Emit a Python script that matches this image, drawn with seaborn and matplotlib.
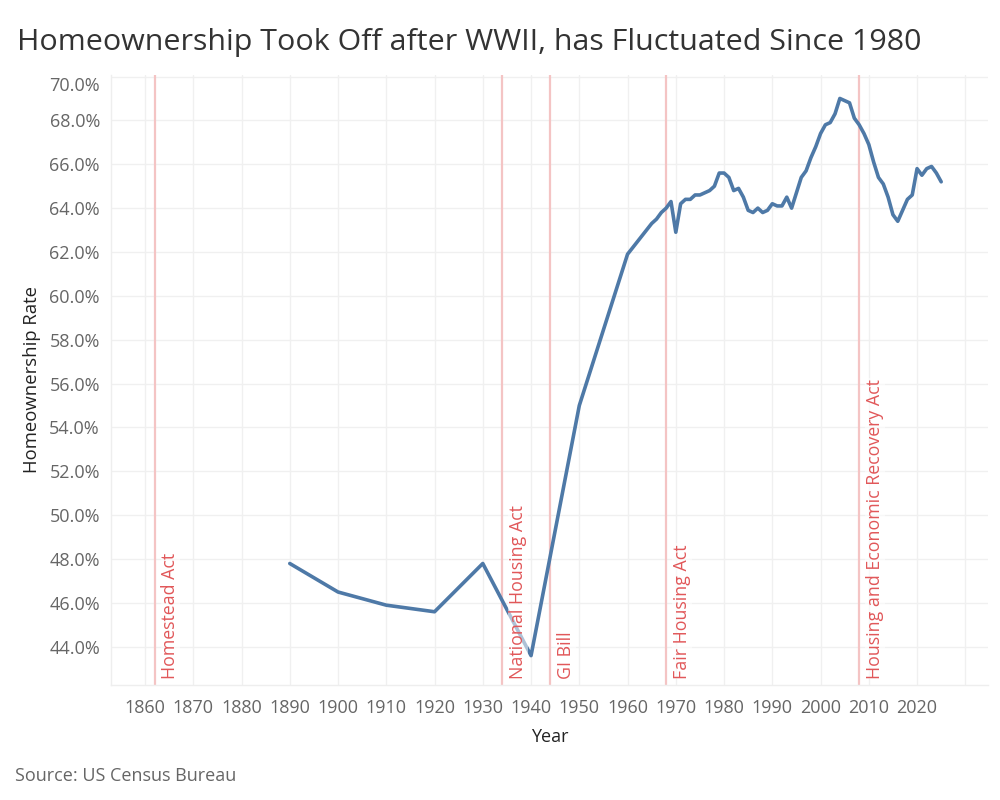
import matplotlib.pyplot as plt
import seaborn as sns
import pandas as pd

# Homeownership rate by year (US Census Bureau)
years = [1890, 1900, 1910, 1920, 1930, 1940, 1950, 1960,
         1965, 1966, 1967, 1968, 1969, 1970, 1971, 1972, 1973, 1974,
         1975, 1976, 1977, 1978, 1979, 1980, 1981, 1982, 1983, 1984,
         1985, 1986, 1987, 1988, 1989, 1990, 1991, 1992, 1993, 1994,
         1995, 1996, 1997, 1998, 1999, 2000, 2001, 2002, 2003, 2004,
         2005, 2006, 2007, 2008, 2009, 2010, 2011, 2012, 2013, 2014,
         2015, 2016, 2017, 2018, 2019, 2020, 2021, 2022, 2023, 2024, 2025]
rates = [47.8, 46.5, 45.9, 45.6, 47.8, 43.6, 55.0, 61.9,
         63.3, 63.5, 63.8, 64.0, 64.3, 62.9, 64.2, 64.4, 64.4, 64.6,
         64.6, 64.7, 64.8, 65.0, 65.6, 65.6, 65.4, 64.8, 64.9, 64.5,
         63.9, 63.8, 64.0, 63.8, 63.9, 64.2, 64.1, 64.1, 64.5, 64.0,
         64.7, 65.4, 65.7, 66.3, 66.8, 67.4, 67.8, 67.9, 68.3, 69.0,
         68.9, 68.8, 68.1, 67.8, 67.4, 66.9, 66.1, 65.4, 65.1, 64.5,
         63.7, 63.4, 63.9, 64.4, 64.6, 65.8, 65.5, 65.8, 65.9, 65.6, 65.2]

# policy milestones
event_years = [1862, 1934, 1944, 1968, 2008]
event_labels = ["Homestead Act", "National Housing Act", "GI Bill",
                "Fair Housing Act", "Housing and Economic Recovery Act"]

x_ticks = list(range(1860, 2031, 10))
x_tick_labels = [str(y) for y in range(1860, 2021, 10)] + [""]
y_ticks = list(range(44, 71, 2))

df = pd.DataFrame({"Year": years, "Rate": rates})

sns.set_style("white")
plt.rcParams["font.family"] = ["Open Sans", "DejaVu Sans"]

fig = plt.figure(figsize=(10, 8), dpi=100)
ax = fig.add_axes([0.111, 0.144, 0.877, 0.762])

for yr in event_years:
    ax.axvline(yr, color="#f4c4c4", lw=1.6, zorder=1)

sns.lineplot(data=df, x="Year", y="Rate", color="#4e79a7", lw=2.6, ax=ax, zorder=2)

for yr, lab in zip(event_years, event_labels):
    ax.text(yr + 1.4, 42.55, lab, rotation=90, ha="left", va="bottom",
            color="#e15759", fontsize=12.8, zorder=3,
            bbox=dict(facecolor="white", edgecolor="none", alpha=0.55, pad=0.5))

ax.set_xlim(1852.95, 2034.7)
ax.set_ylim(42.27, 70.06)
ax.set_xticks(x_ticks)
ax.set_xticklabels(x_tick_labels)
ax.set_yticks(y_ticks)
ax.set_yticklabels([f"{v:.1f}%" for v in y_ticks])
ax.get_yticklabels()[-1].set_va("top")

ax.grid(True, color="#f0f0f0", lw=1)
ax.set_axisbelow(True)
for side in ["top", "right"]:
    ax.spines[side].set_visible(False)
for side in ["left", "bottom"]:
    ax.spines[side].set_color("#eeeeee")
    ax.spines[side].set_linewidth(1)
ax.tick_params(axis="both", length=5, color="#eeeeee", labelsize=13,
               labelcolor="#666666", pad=5)
ax.tick_params(axis="y", pad=3)

ax.set_xlabel("Year", fontsize=13, color="#222222", labelpad=8)
ax.set_ylabel("Homeownership Rate", fontsize=13.3, color="#222222", labelpad=6)

fig.text(0.017, 0.938, "Homeownership Took Off after WWII, has Fluctuated Since 1980",
         fontsize=21.9, color="#333333", ha="left", va="baseline")
fig.text(0.015, 0.030, "Source: US Census Bureau", fontsize=13, color="#666666",
         ha="left", va="center")

plt.savefig("out.png", dpi=100)
